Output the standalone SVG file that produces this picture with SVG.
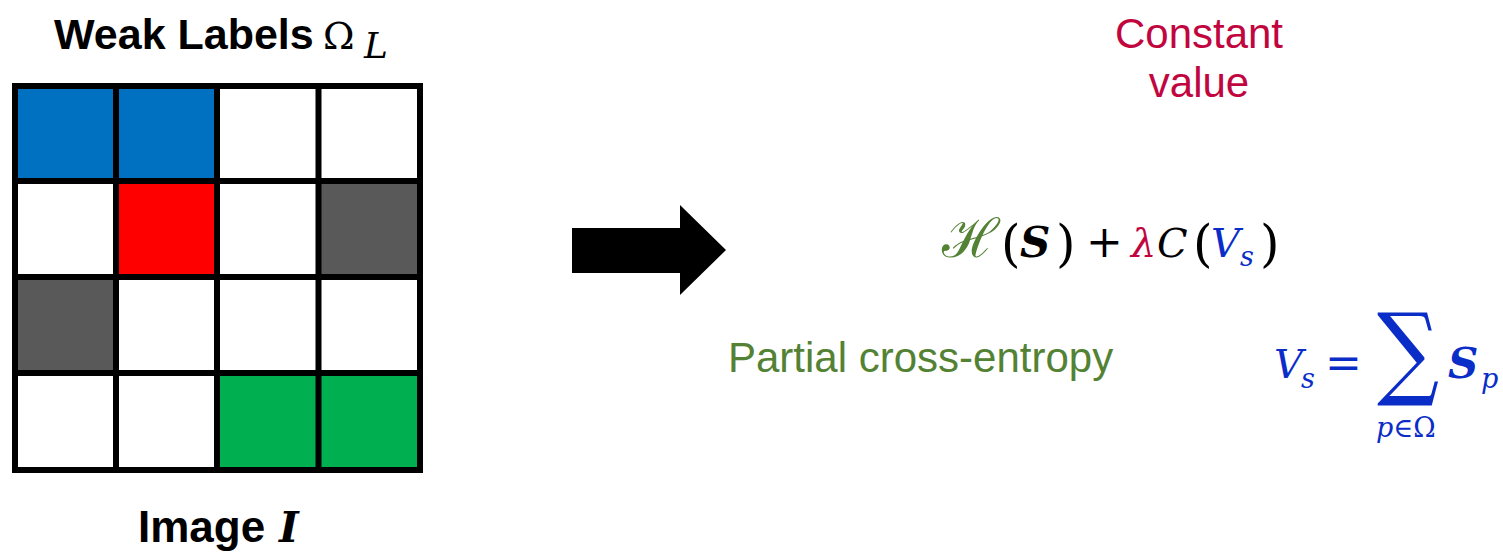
<svg xmlns="http://www.w3.org/2000/svg" width="1503" height="555" viewBox="0 0 1503 555">
<style>
.title{font-family:"Liberation Sans",Arial,sans-serif;font-weight:bold;font-size:44px;fill:#000}
.lab{font-family:"Liberation Sans",Arial,sans-serif;font-size:42px}
.m{font-family:"DejaVu Serif","Liberation Serif",serif;font-size:40px}
.it{font-style:italic}
.sub{font-size:27px}
.par{font-size:50px}
.gl{stroke:#000;stroke-width:6;fill:none;stroke-linecap:square}
</style>
<rect width="1503" height="555" fill="#fff"/>
<g id="weak-labels-title">
<text class="title" x="54" y="49" style="font-size:43px">Weak Labels</text>
<text class="m" x="323" y="49" style="font-size:38px">Ω</text>
<text class="m it" x="364" y="58" style="font-size:36px">L</text>
</g>
<g id="grid">
<rect x="15" y="86" width="101" height="95" fill="#0070C0"/>
<rect x="116" y="86" width="101" height="95" fill="#0070C0"/>
<rect x="116" y="181" width="101" height="96" fill="#FF0000"/>
<rect x="318.5" y="181" width="101.5" height="96" fill="#595959"/>
<rect x="15" y="277" width="101" height="96" fill="#595959"/>
<rect x="217" y="373" width="101.5" height="97" fill="#00B050"/>
<rect x="318.5" y="373" width="101.5" height="97" fill="#00B050"/>
<path class="gl" d="M15 86H420V470H15Z M116 86V470 M217 86V470 M318.5 86V470 M15 181H420 M15 277H420 M15 373H420"/>
</g>
<g id="image-label">
<text class="title" x="138" y="542">Image</text>
<text class="m it" x="279" y="542" style="font-size:42px;font-weight:bold">I</text>
</g>
<g id="connectors">
<polygon points="572,228 680,228 680,205 726,250 680,295 680,273 572,273" fill="#000"/>
</g>
<g id="constant-value">
<text class="lab" fill="#C1063F" text-anchor="middle"><tspan x="1199" y="48">Constant</tspan><tspan x="1199" y="97">value</tspan></text>
</g>
<g id="objective">
<text class="m" x="942" y="257" fill="#548235" style="font-size:54px">ℋ</text>
<text class="m par" x="1001" y="261">(</text>
<text class="m it" x="1020" y="257" style="font-weight:bold;font-size:42px">S</text>
<text class="m par" x="1056" y="261">)</text>
<text class="m" x="1086" y="257" style="font-size:44px">+</text>
<text class="m it" x="1131" y="257" fill="#C1063F">λ</text>
<text class="m it" x="1157" y="257">C</text>
<text class="m par" x="1193" y="261">(</text>
<text class="m it" x="1211" y="257" fill="#0A2DC8">V</text>
<text class="m it sub" x="1240" y="266" fill="#0A2DC8">s</text>
<text class="m par" x="1260" y="261">)</text>
</g>
<g id="partial-ce">
<text class="lab" x="728" y="372" fill="#548235">Partial cross-entropy</text>
</g>
<g id="vs-equation" fill="#0A2DC8">
<text class="m it" x="1274" y="378">V</text>
<text class="m it sub" x="1301" y="388">s</text>
<text class="m" x="1325" y="378" style="font-size:44px">=</text>
<text class="m" transform="translate(1377,386) scale(0.87,1.02)" style="font-size:100px">∑</text>
<text class="m it" x="1448" y="378" style="font-weight:bold;font-size:42px">S</text>
<text class="m it sub" x="1481" y="388">p</text>
<text class="m it" x="1376" y="437" style="font-size:27px">p<tspan style="font-style:normal">∈Ω</tspan></text>
</g>
</svg>
